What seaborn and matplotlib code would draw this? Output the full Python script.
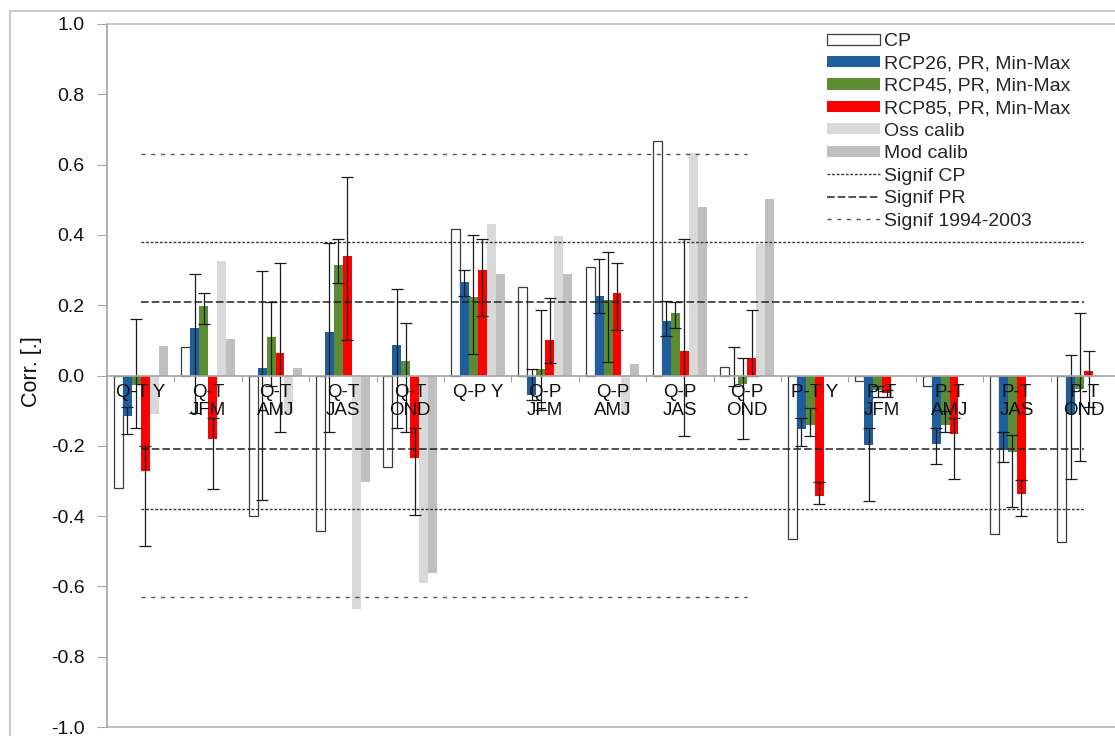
import numpy as np
import pandas as pd
import matplotlib
matplotlib.use("Agg")
import matplotlib.pyplot as plt
import seaborn as sns
from matplotlib.patches import Patch, Rectangle
from matplotlib.lines import Line2D

# ---- data -------------------------------------------------------------
groups = ["Q-T Y", "Q-T\nJFM", "Q-T\nAMJ", "Q-T\nJAS", "Q-T\nOND",
          "Q-P Y", "Q-P\nJFM", "Q-P\nAMJ", "Q-P\nJAS", "Q-P\nOND",
          "P-T Y", "P-T\nJFM", "P-T\nAMJ", "P-T\nJAS", "P-T\nOND"]

series = ["CP", "RCP26, PR, Min-Max", "RCP45, PR, Min-Max",
          "RCP85, PR, Min-Max", "Oss calib", "Mod calib"]

cp = [-0.320, 0.080, -0.399, -0.441, -0.259, 0.417, 0.251, 0.310, 0.666,
      0.023, -0.464, -0.017, -0.031, -0.451, -0.474]

rcp26 = [-0.115, 0.134, 0.021, 0.125, 0.086, 0.267, -0.055, 0.227, 0.156,
         0.002, -0.153, -0.199, -0.195, -0.211, -0.110]
rcp26_min = [-0.167, -0.107, -0.354, -0.162, -0.149, 0.225, -0.070, 0.179,
             0.111, -0.030, -0.200, -0.357, -0.252, -0.246, -0.294]
rcp26_max = [-0.090, 0.288, 0.296, 0.377, 0.245, 0.301, 0.019, 0.331,
             0.212, 0.080, -0.120, -0.150, -0.150, -0.160, 0.059]

rcp45 = [-0.026, 0.199, 0.110, 0.313, 0.042, 0.222, 0.018, 0.215, 0.177,
         -0.024, -0.140, -0.040, -0.140, -0.218, -0.038]
rcp45_min = [-0.150, 0.147, -0.031, 0.263, -0.162, 0.061, -0.098, 0.038,
             0.136, -0.180, -0.172, -0.060, -0.160, -0.373, -0.244]
rcp45_max = [0.160, 0.234, 0.209, 0.389, 0.148, 0.399, 0.187, 0.350,
             0.209, 0.049, -0.093, -0.030, -0.100, -0.170, 0.179]

rcp85 = [-0.272, -0.181, 0.064, 0.340, -0.235, 0.299, 0.101, 0.236, 0.069,
         0.049, -0.342, -0.050, -0.167, -0.337, 0.014]
rcp85_min = [-0.484, -0.323, -0.162, 0.100, -0.396, 0.170, 0.035, 0.130,
             -0.171, 0.000, -0.365, -0.060, -0.294, -0.401, -0.090]
rcp85_max = [-0.200, -0.120, 0.319, 0.566, -0.150, 0.389, 0.220, 0.321,
             0.389, 0.187, -0.303, -0.040, -0.120, -0.297, 0.070]

oss_calib = [-0.110, 0.327, -0.107, -0.665, -0.589, 0.431, 0.396, -0.110,
             0.634, 0.375, np.nan, np.nan, np.nan, np.nan, np.nan]
mod_calib = [0.085, 0.103, 0.021, -0.303, -0.563, 0.289, 0.289, 0.032,
             0.478, 0.503, np.nan, np.nan, np.nan, np.nan, np.nan]

# significance thresholds (drawn symmetrically, +/-)
signif_cp = 0.38
signif_pr = 0.21
signif_1994_2003 = 0.63
n_q_groups = 10          # the 1994-2003 threshold applies to the Q groups only

y_ticks = [-1.0, -0.8, -0.6, -0.4, -0.2, 0.0, 0.2, 0.4, 0.6, 0.8, 1.0]

colors = ["#FFFFFF", "#1F5E9C", "#5B8B32", "#FF0000", "#D9D9D9", "#BFBFBF"]

# ---- long table for seaborn -------------------------------------------
values = [cp, rcp26, rcp45, rcp85, oss_calib, mod_calib]
rows = []
for s, vals in zip(series, values):
    for g, v in zip(groups, vals):
        rows.append({"group": g, "series": s, "value": v})
df = pd.DataFrame(rows)

# ---- style --------------------------------------------------------------
sns.set_theme(style="white")
plt.rcParams["font.family"] = ["Liberation Sans", "DejaVu Sans"]
plt.rcParams["axes.unicode_minus"] = False
plt.rcParams["lines.scale_dashes"] = False

W, H = 1115, 736
fig = plt.figure(figsize=(W / 100, H / 100), dpi=100)
ax = fig.add_axes([107 / W, 1 - 727 / H, 1011 / W, (727 - 24) / H])

sns.barplot(data=df, x="group", y="value", hue="series",
            order=groups, hue_order=series,
            palette=dict(zip(series, colors)), saturation=1,
            width=0.8, errorbar=None, legend=False,
            linewidth=0, ax=ax)

# outlined CP bars
for p in ax.containers[0].patches:
    p.set_edgecolor("#3C3C3C")
    p.set_linewidth(0.9)

# min-max whiskers on the RCP bars
err_sets = [(rcp26, rcp26_min, rcp26_max),
            (rcp45, rcp45_min, rcp45_max),
            (rcp85, rcp85_min, rcp85_max)]
for k, (v, lo, hi) in enumerate(err_sets, start=1):
    cont = ax.containers[k]
    xs = [p.get_x() + p.get_width() / 2 for p in cont.patches]
    v, lo, hi = np.array(v), np.array(lo), np.array(hi)
    ax.errorbar(xs, v, yerr=[v - lo, hi - v], fmt="none",
                ecolor="#1A1A1A", elinewidth=0.9, capsize=4,
                capthick=0.9, zorder=2.2)

# significance lines
line_cp = dict(color="#333333", lw=1.0, linestyle=(0, (2.0, 1.3)))
line_pr = dict(color="#222222", lw=1.1, linestyle=(0, (5.5, 2.2)))
line_1994 = dict(color="#555555", lw=1.0, linestyle=(0, (3.0, 4.0)))
last = len(groups) - 1
for sgn in (1, -1):
    ax.plot([0, last], [sgn * signif_cp] * 2, **line_cp)
    ax.plot([0, last], [sgn * signif_pr] * 2, **line_pr)
    ax.plot([0, n_q_groups - 1], [sgn * signif_1994_2003] * 2, **line_1994)

# axes
ax.set_axisbelow(False)
ax.set_xlim(-0.5, len(groups) - 0.5)
ax.set_ylim(-1.0, 1.0)
ax.set_yticks(y_ticks)
ax.set_yticklabels([f"{t:.1f}" for t in y_ticks])
ax.set_xlabel("")
ax.set_ylabel("")

ax.spines["bottom"].set_position(("data", 0))
ax.spines["bottom"].set_color("#A6A6A6")
ax.spines["left"].set_color("#A6A6A6")
ax.spines["top"].set_color("#BFBFBF")
ax.spines["right"].set_visible(False)
ax.axhline(-1.0, color="#BFBFBF", lw=1.4, clip_on=False)

ax.set_xticks(np.arange(0.5, len(groups) - 0.5, 1), minor=True)
ax.tick_params(axis="x", which="major", length=0, pad=6, labelsize=13.5,
               colors="#111111")
ax.tick_params(axis="x", which="minor", length=4, width=0.8,
               color="#A6A6A6", direction="out", bottom=True)
ax.tick_params(axis="y", length=7, width=0.8, color="#A6A6A6", pad=9,
               labelsize=14, direction="out", left=True, labelcolor="#111111")
for t in ax.get_xticklabels():
    t.set_linespacing(1.12)

fig.text(31 / W, 1 - 372 / H, "Corr. [.]", rotation=90, ha="center",
         va="center", fontsize=15.5, color="#111111")

# legend
handles = [Patch(facecolor=c, edgecolor=("#3C3C3C" if i == 0 else c),
                 linewidth=(0.9 if i == 0 else 0))
           for i, c in enumerate(colors)]
handles += [Line2D([], [], **line_cp), Line2D([], [], **line_pr),
            Line2D([], [], **line_1994)]
labels = series + ["Signif CP", "Signif PR", "Signif 1994-2003"]
fig.legend(handles, labels, loc="upper left",
           bbox_to_anchor=(827 / W, 1 - 33 / H), frameon=False,
           fontsize=14, handlelength=2.7, handleheight=0.5,
           handletextpad=0.25, labelspacing=0.28, borderpad=0,
           borderaxespad=0)

# chart border
fig.add_artist(Rectangle((10 / W, -0.05), 1.2, 1 - 11 / H + 0.05,
                         transform=fig.transFigure, fill=False,
                         edgecolor="#BFBFBF", lw=1.2))

fig.savefig("out.png", dpi=100)
